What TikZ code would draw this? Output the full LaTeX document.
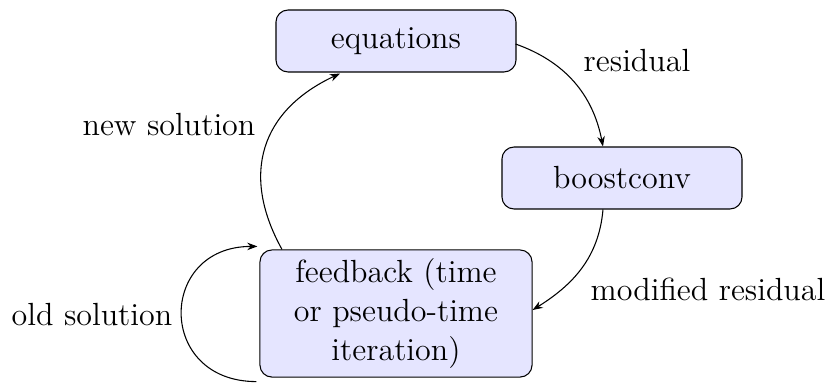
\documentclass[tikz,border=0pt]{standalone}
\usetikzlibrary{arrows.meta}
\begin{document}
\begin{tikzpicture}[x=0.3745pt,y=0.3745pt,
  every node/.style={font=\fontsize{12}{14.5}\selectfont},
  box/.style={draw=black, fill=blue!10, rounded corners=4.5pt, inner sep=2pt, align=center},
  smallbox/.style={box, minimum width=89.9pt, minimum height=23.2pt},
  lbl/.style={anchor=base},
  arr/.style={-{Stealth[length=3.8pt,width=2.8pt]}}]
\useasboundingbox (0,0) rectangle (832,383);
\node[smallbox] (eq) at (396,342) {equations};
\node[smallbox] (bc) at (622,205) {boostconv};
\node[box, minimum width=101.9pt, minimum height=47.6pt] (fb) at (396,69.5) {feedback (time\\or pseudo-time\\iteration)};
% connectors
\draw[arr] ([shift={(-1,-3)}]eq.east) to[out=-19.5,in=101] ([shift={(-19,0)}]bc.north);
\draw[arr] ([shift={(-19,0)}]bc.south) to[out=265,in=32] ([shift={(0,3.5)}]fb.east);
\draw[arr] ([shift={(-114,0)}]fb.north) to[out=119,in=205,looseness=1.2] ([shift={(-56,-1)}]eq.south);
\draw[arr] ([shift={(-3,-4)}]fb.south west) .. controls +(-100,0) and +(-100,0) .. ([shift={(-2,3)}]fb.north west);
% labels
\node[lbl] (lres) at (637,312) {residual};
\node[lbl] (lmod) at (708,83) {modified residual};
\node[lbl] (lnew) at (169,248) {new solution};
\node[lbl] (lold) at (92,58) {old solution};
\end{tikzpicture}
\end{document}
